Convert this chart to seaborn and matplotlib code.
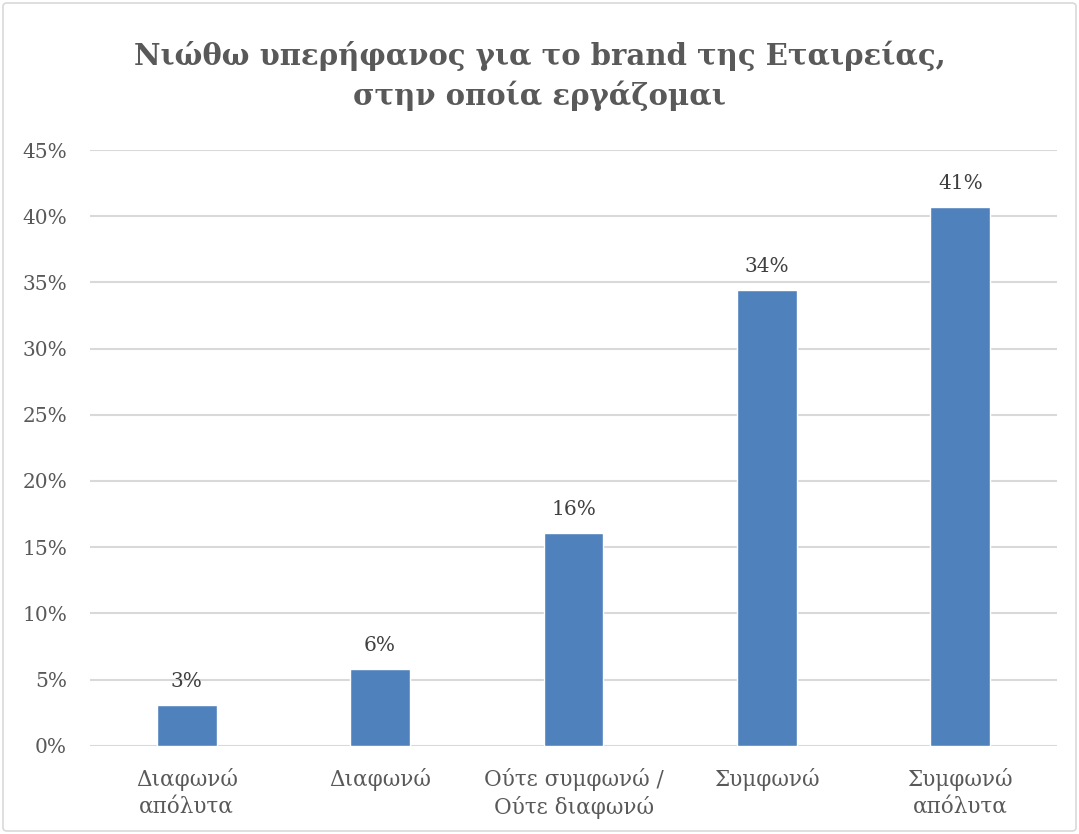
import matplotlib
matplotlib.use("Agg")
import matplotlib.pyplot as plt
from matplotlib.patches import FancyBboxPatch
from matplotlib.ticker import FuncFormatter, MultipleLocator
import seaborn as sns
import pandas as pd

categories = ["Διαφωνώ\nαπόλυτα", "Διαφωνώ", "Ούτε συμφωνώ /\nΟύτε διαφωνώ", "Συμφωνώ", "Συμφωνώ\nαπόλυτα"]
percentages = [3.1, 5.8, 16.1, 34.4, 40.7]
title_text = "Νιώθω υπερήφανος για το brand της Εταιρείας,\nστην οποία εργάζομαι"

df = pd.DataFrame({"category": categories, "pct": percentages})

sns.set_theme(style="white")
plt.rcParams["font.family"] = ["DejaVu Serif", "Liberation Serif"]

text_gray = "#595959"
bar_blue = "#4F81BD"
grid_gray = "#D9D9D9"

fig = plt.figure(figsize=(10.79, 8.34), dpi=100)
fig.patch.set_facecolor("white")

# outer chart frame
frame = FancyBboxPatch((3 / 1079, 3 / 834), 1073 / 1079, 828 / 834,
                       boxstyle="round,pad=0,rounding_size=0.004",
                       transform=fig.transFigure, facecolor="none",
                       edgecolor="#D9D9D9", linewidth=1.2)
fig.patches.append(frame)

ax = fig.add_axes([90 / 1079, 1 - 745.7 / 834, 967 / 1079, (745.7 - 150) / 834])

sns.barplot(data=df, x="category", y="pct", color=bar_blue, width=0.31,
            saturation=1, ax=ax, zorder=3)

ax.set_ylim(0, 45)
ax.yaxis.set_major_locator(MultipleLocator(5))
ax.yaxis.set_major_formatter(FuncFormatter(lambda v, _: f"{v:.0f}%"))
ax.grid(axis="y", color=grid_gray, linewidth=1.5, zorder=0)
ax.set_axisbelow(True)
for s in ["top", "right", "left", "bottom"]:
    ax.spines[s].set_visible(False)

ax.set_xlabel("")
ax.set_ylabel("")
ax.tick_params(axis="y", length=0, pad=16.5, labelsize=14.5, labelcolor=text_gray)
ax.tick_params(axis="x", length=0, pad=16, labelsize=15.5, labelcolor=text_gray)
for lbl in ax.get_xticklabels():
    lbl.set_linespacing(1.3)

# value labels above each bar
for container in ax.containers:
    ax.bar_label(container, labels=[f"{v:.0f}%" for v in df["pct"]],
                 padding=10, fontsize=14.5, color="#404040")

fig.text(0.5, 1 - 76 / 834, title_text, ha="center", va="center",
         fontsize=21, fontweight="bold", color=text_gray, linespacing=1.4)

fig.savefig("out.png", dpi=100, facecolor="white")
